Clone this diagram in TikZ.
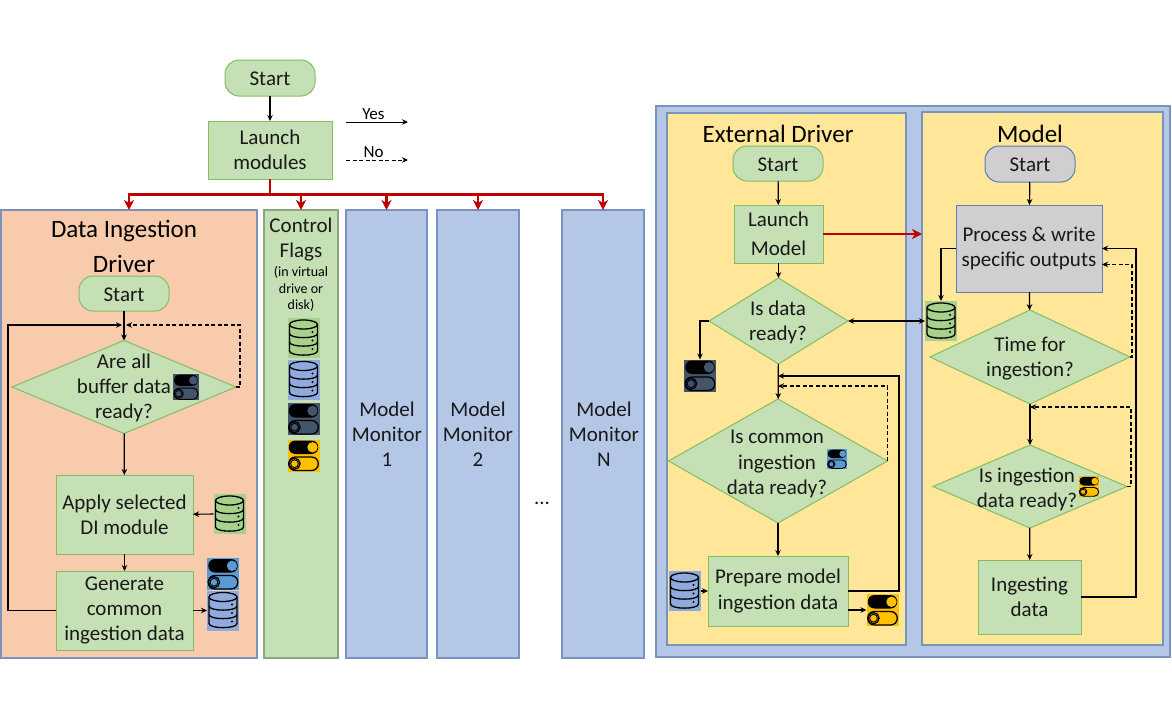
\documentclass[tikz,border=0pt]{standalone}
\usepackage{fontspec}
\setmainfont{Carlito}
\usetikzlibrary{arrows.meta,shapes.geometric,calc}
\definecolor{boxgreen}{HTML}{C5E0B4}
\definecolor{boxedge}{HTML}{84BD63}
\definecolor{peach}{HTML}{F8CBAD}
\definecolor{paleblue}{HTML}{B4C7E7}
\definecolor{paleyellow}{HTML}{FFE699}
\definecolor{panelgrey}{HTML}{D0CECE}
\definecolor{paneledge}{HTML}{7A93BD}
\definecolor{flagedge}{HTML}{8BA582}
\definecolor{greyedge}{HTML}{5B7FB0}
\definecolor{redline}{HTML}{C00000}
\definecolor{dbgreen}{HTML}{A9D18E}
\definecolor{dbblue}{HTML}{8FAADC}
\definecolor{tgdark}{HTML}{44546A}
\definecolor{tgblue}{HTML}{5B9BD5}
\definecolor{tgyellow}{HTML}{FFC000}
\tikzset{
  txt/.style={font=\fontsize{21}{25.2}\selectfont,align=center,inner sep=0pt,text=black!90,execute at begin node={\rule{0pt}{16pt}}},
  titletxt/.style={font=\fontsize{25}{35}\selectfont,align=center,inner sep=0pt},
  smalltxt/.style={font=\fontsize{14}{16.5}\selectfont,align=center,inner sep=0pt},
  legendtxt/.style={font=\fontsize{17}{18}\selectfont,inner sep=0pt},
  procbox/.style={rectangle,draw=boxedge,fill=boxgreen,line width=1pt,inner sep=0pt,outer sep=0pt,txt},
  startbox/.style={procbox,rounded corners=14pt},
  greybox/.style={procbox,draw=greyedge,fill=panelgrey},
  greystart/.style={startbox,draw=greyedge,fill=panelgrey},
  decision/.style={diamond,draw=boxedge,fill=boxgreen,line width=1pt,inner sep=0pt,outer sep=0pt},
  panel/.style={rectangle,draw=paneledge,line width=1.2pt,inner sep=0pt,outer sep=0pt},
  conn/.style={draw=black,line width=1.2pt,-{Stealth[length=6pt,width=5.5pt]}},
  dashconn/.style={conn,dash pattern=on 4pt off 2.5pt},
  redconn/.style={draw=redline,line width=2.4pt,-{Stealth[length=10pt,width=10pt,inset=3pt]}},
  redstem/.style={draw=redline,line width=2.4pt},
}
% name, centre, scale, line width, background colour
\newcommand{\dbicon}[5]{%
  \begin{scope}[shift={#2},scale=#3]
    \node[transform shape,rectangle,fill=#5,minimum width=32pt,minimum height=40pt,inner sep=0pt,outer sep=0pt] (#1) at (0,0) {};
    \draw[black,line width=#4,fill=#5] (-14,-13) -- (-14,13) .. controls (-14,18.5) and (14,18.5) .. (14,13) -- (14,-13);
    \draw[black,line width=#4,fill=#5] (0,-13.5) ellipse[x radius=14,y radius=4.5];
    \draw[black,line width=#4] (-14,-4.5) .. controls (-14,1) and (14,1) .. (14,-4.5);
    \draw[black,line width=#4] (-14,4) .. controls (-14,9.5) and (14,9.5) .. (14,4);
    \fill[black] (9,-6) circle[radius=1.1] (9,2.5) circle[radius=1.1] (9,11) circle[radius=1.1];
  \end{scope}}
\newcommand{\toggleicon}[5]{%
  \begin{scope}[shift={#2},scale=#3]
    \node[transform shape,rectangle,fill=#5,minimum width=32pt,minimum height=32pt,inner sep=0pt,outer sep=0pt] (#1) at (0,0) {};
    \fill[black] (-8,-15) -- (8,-15) .. controls (17,-15) and (17,-1.5) .. (8,-1.5) -- (-8,-1.5) .. controls (-17,-1.5) and (-17,-15) .. cycle;
    \fill[#5] (9,-8.2) circle[radius=5.2];
    \draw[black,line width=#4] (-8,1.5) -- (8,1.5) .. controls (17,1.5) and (17,15) .. (8,15) -- (-8,15) .. controls (-17,15) and (-17,1.5) .. cycle;
    \draw[black,line width=#4] (-9,8.2) circle[radius=5.6];
    \draw[black,line width=#4*0.7] (-9,8.2) circle[radius=3.9];
  \end{scope}}
\begin{document}
\begin{tikzpicture}[x=1pt,y=-1pt]
\useasboundingbox[fill=white] (0,0) rectangle (1172,720);

% ---------- top
\node[startbox,minimum width=90pt,minimum height=36pt] (start) at (270,78) {Start};
\node[procbox,minimum width=124pt,minimum height=58pt] (launch) at (270,150) {Launch\\modules};
\draw[conn] (start) -- (launch);

% legend
\coordinate (yesa) at (346,122); \coordinate (yesb) at (408,122);
\coordinate (noa) at (346,160); \coordinate (nob) at (408,160);
\draw[conn,line width=1pt] (yesa) -- (yesb);
\draw[dashconn,line width=1pt] (noa) -- (nob);
\node[legendtxt] (yeslbl) at (373.5,114) {Yes};
\node[legendtxt] (nolbl) at (373.5,152) {No};

% ---------- panels
\node[panel,fill=peach,minimum width=256pt,minimum height=448pt] (dipanel) at (129,434) {};
\node[panel,draw=flagedge,fill=boxgreen,minimum width=74pt,minimum height=448pt] (flags) at (301,434) {};
\node[panel,fill=paleblue,minimum width=81pt,minimum height=448pt] (mon1) at (386.5,434) {};
\node[panel,fill=paleblue,minimum width=82pt,minimum height=448pt] (mon2) at (478,434) {};
\node[panel,fill=paleblue,minimum width=82pt,minimum height=448pt] (monN) at (603,434) {};
\node[txt] (mon1t) at (387,434.5) {Model\\Monitor\\1};
\node[txt] (mon2t) at (478,434.5) {Model\\Monitor\\2};
\node[txt] (monNt) at (604,434.5) {Model\\Monitor\\N};
\node[txt] (dots) at (542,497) {...};

% red distribution
\coordinate (bus) at (270,194.5);
\draw[redstem] (launch.south) -- (bus);
\draw[redconn] (bus) -| (dipanel.north);
\draw[redconn] (bus) -| (flags.north);
\draw[redconn] (bus) -| (mon1.north);
\draw[redconn] (bus) -| (mon2.north);
\draw[redconn] (bus) -| (monN.north);

% control flags
\node[txt] (flagt) at (301,239.5) {Control\\Flags};
\node[smalltxt] (flagnote) at (301,289) {(in virtual\\drive or\\disk)};
\dbicon{fdbg}{(303.5,338)}{1}{1.3pt}{dbgreen}
\dbicon{fdbb}{(303.5,379.5)}{1}{1.3pt}{dbblue}
\toggleicon{ftd}{(303.5,419)}{1}{1.3pt}{tgdark}
\toggleicon{fty}{(303.5,455.5)}{1}{1.3pt}{tgyellow}

% ---------- data ingestion driver
\node[titletxt] (dit) at (124,246.5) {Data Ingestion\\Driver};
\node[startbox,minimum width=90pt,minimum height=35pt] (dis) at (124,293.5) {Start};
\node[decision,minimum width=224pt,minimum height=93pt] (d1) at (124,387) {};
\node[txt] (d1t) at (124,388) {Are all\\buffer data\\ready?};
\node[procbox,minimum width=137pt,minimum height=79pt] (apply) at (124.5,514.5) {Apply selected\\DI module};
\node[procbox,minimum width=137pt,minimum height=79pt] (gen) at (124.5,610.5) {Generate\\common\\ingestion data};
\toggleicon{dit1}{(186,387)}{0.82}{1pt}{tgdark}
\dbicon{didb}{(229.5,514)}{1}{1.3pt}{dbgreen}
\toggleicon{dit2}{(223,574)}{1}{1.3pt}{tgblue}
\dbicon{didb2}{(223,610.5)}{1}{1.3pt}{dbblue}
\coordinate (j1a) at (122,325);
\coordinate (j1b) at (126,325);
\draw[conn] (dis) -- (d1);
\draw[conn] (d1) -- (apply);
\draw[conn] (apply) -- (gen);
\draw[conn] (didb) -- (apply);
\draw[conn] (gen) -- (didb2);
\draw[conn] (gen.west) -- ++(-48,0) |- (j1a);
\draw[dashconn] (d1.east) -- ++(4,0) |- (j1b);

% ---------- right block
\node[panel,fill=paleblue,minimum width=514pt,minimum height=551pt] (outer) at (913,381.5) {};
\node[panel,fill=paleyellow,minimum width=239pt,minimum height=532pt] (ext) at (786.5,379) {};
\node[panel,fill=paleyellow,minimum width=241pt,minimum height=533pt] (modelp) at (1042.5,378.5) {};

% external driver
\node[titletxt] (extt) at (778,134) {External Driver};
\node[startbox,minimum width=90pt,minimum height=35pt] (exs) at (778,163.5) {Start};
\node[procbox,minimum width=89pt,minimum height=58pt,font=\fontsize{21}{29}\selectfont] (lm) at (778.5,234) {Launch\\Model};
\node[decision,minimum width=139pt,minimum height=86pt] (d2) at (778.5,321) {};
\node[txt] (d2t) at (778,322.5) {Is data\\ready?};
\node[decision,minimum width=219pt,minimum height=124pt] (d3) at (778,461) {};
\node[txt] (d3t) at (777,464) {Is common\\ingestion\\data ready?};
\node[procbox,minimum width=140pt,minimum height=70pt] (prep) at (778,591) {Prepare model\\ingestion data};
\toggleicon{ext1}{(700,375.5)}{1}{1.3pt}{tgdark}
\toggleicon{ext2}{(837,459)}{0.63}{0.9pt}{tgblue}
\dbicon{exdb}{(684.5,591)}{1}{1.3pt}{dbblue}
\toggleicon{ext3}{(882.5,610)}{1}{1.3pt}{tgyellow}
\coordinate (j2) at (778,376);
\coordinate (j3) at (778,386);
\draw[conn] (exs) -- (lm);
\draw[conn] (lm) -- (d2);
\draw[conn] (d2) -- (d3);
\draw[conn] (d3) -- (prep);
\draw[conn] (d2.west) -| (ext1.north);
\draw[conn] (exdb) -- (prep);
\draw[conn] ([yshift=-19pt]prep.east) -- (ext3.west);
\draw[conn] (prep.east) -- ++(51,0) |- (j2);
\draw[dashconn] (d3.east) |- (j3);

% model
\node[titletxt] (modt) at (1030,134) {Model};
\node[greystart,minimum width=90pt,minimum height=36pt] (mos) at (1030,164) {Start};
\node[greybox,minimum width=146pt,minimum height=87pt] (proc) at (1029,248.5) {Process \& write\\specific outputs};
\node[decision,minimum width=200pt,minimum height=94pt] (d4) at (1030,357) {};
\node[txt] (d4t) at (1030,358.5) {Time for\\ingestion?};
\node[decision,minimum width=194pt,minimum height=83pt] (d5) at (1030,486.5) {};
\node[txt] (d5t) at (1027,489.5) {Is ingestion\\data ready?};
\node[procbox,minimum width=103pt,minimum height=74pt] (ing) at (1029.5,597) {Ingesting\\data};
\dbicon{modb}{(941,321)}{1}{1.3pt}{dbgreen}
\toggleicon{mot}{(1089,486.5)}{0.65}{0.9pt}{tgyellow}
\coordinate (j4) at (1030,407);
\draw[conn] (mos) -- (proc);
\draw[conn] (proc) -- (d4);
\draw[conn] (d4) -- (d5);
\draw[conn] (d5) -- (ing);
\draw[conn] (proc.west) -| (modb.north);
\draw[conn] (ing.east) -- ++(55,0) |- (proc.east);
\draw[dashconn] (d4.east) -- ++(2,0) |- ([yshift=-16pt]proc.east);
\draw[dashconn] (d5.east) -- ++(4,0) |- (j4);

% cross links
\draw[conn,{Stealth[length=6pt,width=5.5pt]}-{Stealth[length=6pt,width=5.5pt]}] (d2.east) -- (modb.west);
\draw[redconn] (lm.east) -- (lm.east -| modelp.west);
\end{tikzpicture}
\end{document}
